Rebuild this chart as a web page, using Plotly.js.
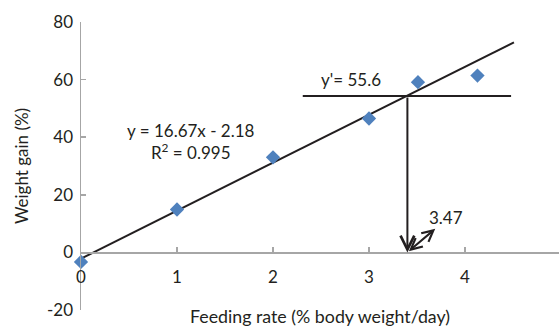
<!DOCTYPE html>
<html>
<head>
<meta charset="utf-8">
<script src="https://cdn.plot.ly/plotly-3.0.1.min.js"></script>
<style>html,body{margin:0;padding:0;background:#fff;}#chart{width:559px;height:327px;}</style>
</head>
<body>
<div id="chart"></div>
<script>
// Observed data
var feedingRate = [0, 1, 2, 3, 3.51, 4.13];
var weightGain = [-3.3, 14.9, 33.0, 46.5, 59.1, 61.4];
// Fitted trend line y = 16.67x - 2.18
var trendX = [0, 4.51];
var trendY = [-2.18, 72.96];
// Horizontal target line y' (drawn level)
var targetX = [2.31, 4.48];
var targetY = [54.3, 54.3];
// Intersection / optimum feeding rate
var optimumX = 3.40;
var optimumY = 54.3;
var xTicks = [0, 1, 2, 3, 4];
var yTicks = [-20, 0, 20, 40, 60, 80];

var FONT = 'Lato, "Open Sans", sans-serif';
var FS = 17;
var TXT = '#231f20';
var AX = '#a6a6a6';

var traces = [
  {x: trendX, y: trendY, mode: 'lines', line: {color: TXT, width: 2}, hoverinfo: 'skip', showlegend: false},
  {x: targetX, y: targetY, mode: 'lines', line: {color: TXT, width: 2}, hoverinfo: 'skip', showlegend: false},
  {x: feedingRate, y: weightGain, mode: 'markers', marker: {symbol: 'diamond', size: 11, color: '#4f81bd'}, showlegend: false, cliponaxis: false}
];

var layout = {
  width: 559, height: 327,
  margin: {l: 81, r: 0, t: 22, b: 17},
  paper_bgcolor: '#fff', plot_bgcolor: '#fff',
  font: {family: FONT, size: FS, color: TXT},
  showlegend: false,
  xaxis: {
    range: [0, 478/96], showgrid: false, zeroline: false,
    showline: true, linecolor: AX, linewidth: 1.5,
    anchor: 'free', position: 0.2,
    ticks: 'inside', ticklen: 5, tickcolor: AX, tickwidth: 1.5,
    tickvals: xTicks, ticktext: xTicks.map(String),
    ticklabelstandoff: 9,
    title: {text: 'Feeding rate (% body weight/day)', font: {size: 17.8, color: TXT}, standoff: 27},
    automargin: false
  },
  yaxis: {
    range: [-20, 80], showgrid: false, zeroline: false,
    showline: true, linecolor: AX, linewidth: 1.5,
    ticks: 'inside', ticklen: 5, tickcolor: AX, tickwidth: 1.5,
    tickvals: yTicks, ticktext: yTicks.map(String),
    ticklabelstandoff: 3,
    title: {text: 'Weight gain (%)', font: {size: FS, color: TXT}, standoff: 14},
    automargin: false
  },
  annotations: [
    {x: 5, y: 0, xref: 'x', yref: 'y', text: '5', showarrow: false, yshift: -26, font: {size: FS, color: TXT}},
    {x: optimumX, y: 0, xref: 'x', yref: 'y', ax: optimumX, ay: optimumY, axref: 'x', ayref: 'y',
     text: '', showarrow: true, arrowhead: 5, arrowsize: 1.35, arrowwidth: 2, arrowcolor: TXT, standoff: 0},
    {x: 3.69, y: 8.2, xref: 'x', yref: 'y', ax: optimumX, ay: 0, axref: 'x', ayref: 'y',
     text: '', showarrow: true, arrowside: 'end+start', arrowhead: 5, startarrowhead: 5, arrowsize: 1.1, startarrowsize: 1.1, arrowwidth: 2, arrowcolor: TXT, standoff: 0, startstandoff: 0},
    {x: 3.80, y: 12.2, xref: 'x', yref: 'y', text: '3.47', showarrow: false, font: {size: FS, color: TXT}},
    {x: 2.81, y: 60.2, xref: 'x', yref: 'y', text: "y'= 55.6", showarrow: false, font: {size: FS, color: TXT}},
    {x: 1.15, y: 38.5, xref: 'x', yref: 'y', text: 'y = 16.67x - 2.18<br>R<sup>2</sup> = 0.995', showarrow: false, align: 'center', font: {size: FS, color: TXT}}
  ]
};

Plotly.newPlot('chart', traces, layout, {displayModeBar: false, staticPlot: true});
</script>
</body>
</html>
